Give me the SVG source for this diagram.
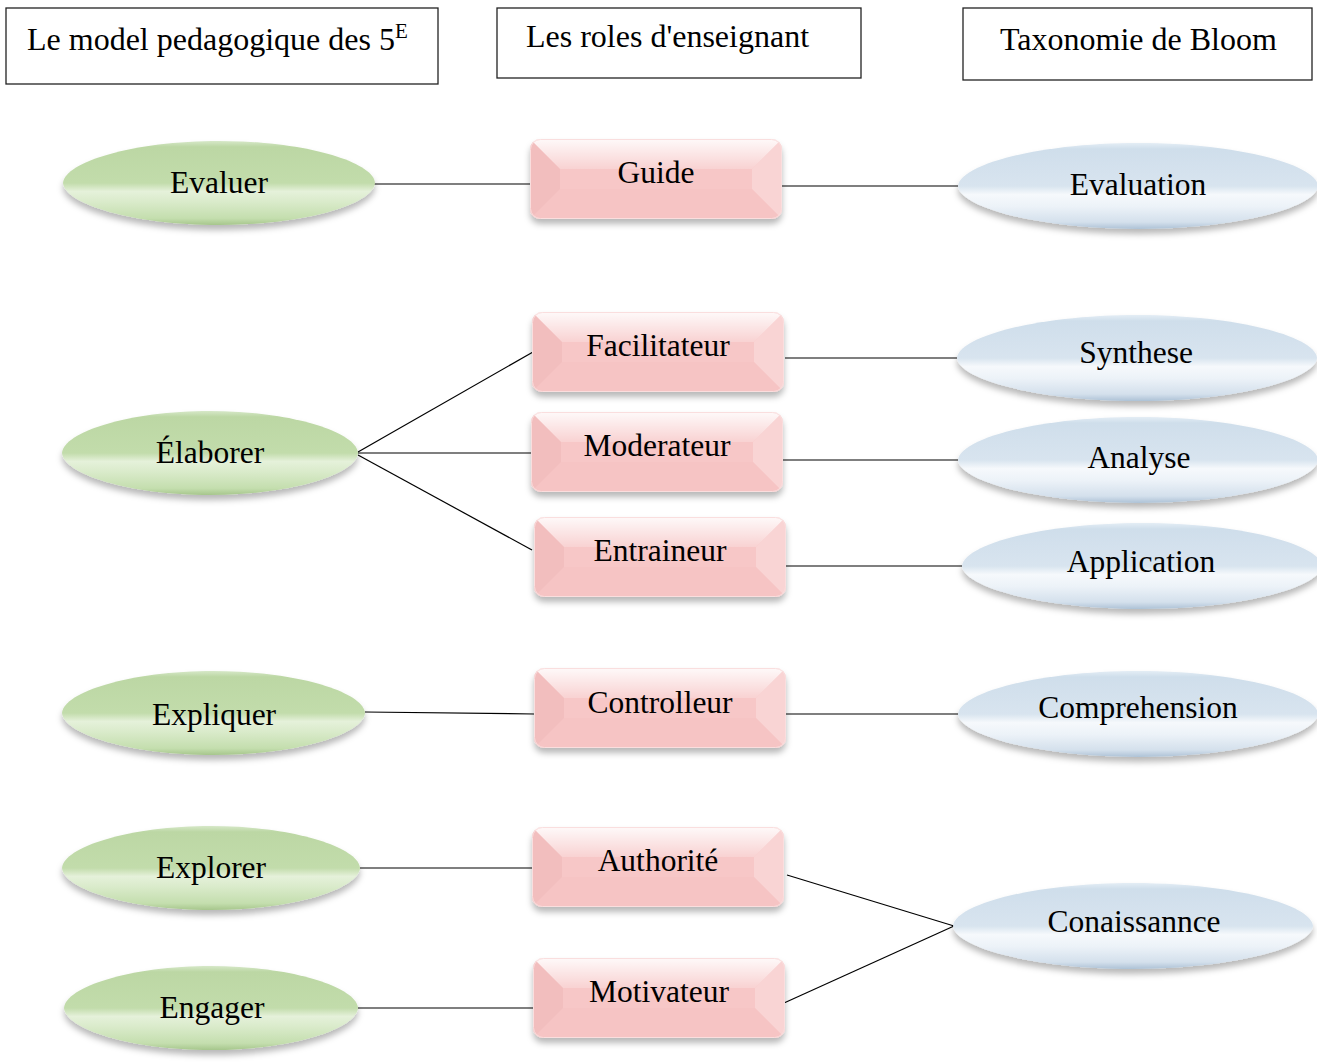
<svg xmlns="http://www.w3.org/2000/svg" xmlns:xlink="http://www.w3.org/1999/xlink" width="1317" height="1064" viewBox="0 0 1317 1064">
<style>
.t{font-family:"Liberation Serif","Times New Roman",serif;font-size:31.5px;fill:#000}
.h{font-size:32px}
.m{text-anchor:middle}
.hdr{fill:#fff;stroke:#222;stroke-width:1.3}
.g{fill:url(#gGreen);filter:url(#sh)}
.b{fill:url(#gBlue);filter:url(#sh)}
.edge{stroke:#000;stroke-width:1.2;fill:none}
</style>
<defs>
<filter id="sh" x="-10%" y="-20%" width="120%" height="150%">
<feDropShadow dx="0" dy="5" stdDeviation="3" flood-color="#000" flood-opacity="0.28"/>
</filter>
<linearGradient id="gGreen" x1="0" y1="0" x2="0" y2="1">
<stop offset="0" stop-color="#d6e8c8"/>
<stop offset="0.07" stop-color="#bcd7a4"/>
<stop offset="0.5" stop-color="#c2dcab"/>
<stop offset="0.6" stop-color="#e5f1da"/>
<stop offset="0.72" stop-color="#daebcb"/>
<stop offset="0.92" stop-color="#c4deae"/>
<stop offset="1" stop-color="#a6c68c"/>
</linearGradient>
<linearGradient id="gBlue" x1="0" y1="0" x2="0" y2="1">
<stop offset="0" stop-color="#e4edf5"/>
<stop offset="0.07" stop-color="#cfdeeb"/>
<stop offset="0.5" stop-color="#d8e4ef"/>
<stop offset="0.6" stop-color="#f6f9fc"/>
<stop offset="0.74" stop-color="#ecf2f8"/>
<stop offset="0.92" stop-color="#d4e0ec"/>
<stop offset="1" stop-color="#adc2d6"/>
</linearGradient>
<linearGradient id="gTop" x1="0" y1="0" x2="0" y2="1">
<stop offset="0" stop-color="#fff" stop-opacity="0.9"/>
<stop offset="1" stop-color="#fff" stop-opacity="0.2"/>
</linearGradient>
<clipPath id="rc"><rect x="0" y="0" width="252" height="80" rx="10"/></clipPath>
<g id="role">
<rect x="0" y="0" width="252" height="80" rx="10" fill="#f7c7c7" filter="url(#sh)"/>
<g clip-path="url(#rc)">
<polygon points="0,0 252,0 222,30 30,30" fill="url(#gTop)"/>
<polygon points="0,0 30,30 30,50 0,80" fill="#ebb1b1" opacity="0.4"/>
<polygon points="252,0 222,30 222,50 252,80" fill="#fcdede" opacity="0.55"/>
<polygon points="0,80 30,50 222,50 252,80" fill="#f4bfbf" opacity="0.35"/>
</g>
<rect x="0.5" y="0.5" width="251" height="79" rx="10" fill="none" stroke="#fadede" stroke-width="1"/>
</g>
</defs>
<rect width="1317" height="1064" fill="#fff"/>

<g id="hdr-5e">
<rect class="hdr" x="6" y="8" width="432" height="76"/>
<text class="t h" x="27" y="50">Le model pedagogique des 5<tspan font-size="21" dy="-12">E</tspan></text>
</g>
<g id="hdr-roles">
<rect class="hdr" x="497" y="8" width="364" height="70"/>
<text class="t h" x="526" y="47">Les roles d'enseignant</text>
</g>
<g id="hdr-bloom">
<rect class="hdr" x="963" y="8" width="349" height="72"/>
<text class="t h" x="1000" y="50">Taxonomie de Bloom</text>
</g>

<g id="connectors">
<line class="edge" x1="372" y1="184" x2="530" y2="184"/>
<line class="edge" x1="782" y1="186" x2="958" y2="186"/>
<line class="edge" x1="358" y1="452" x2="533" y2="352"/>
<line class="edge" x1="358" y1="453" x2="531" y2="453"/>
<line class="edge" x1="358" y1="455" x2="532" y2="550"/>
<line class="edge" x1="785" y1="358" x2="957" y2="358"/>
<line class="edge" x1="783" y1="460" x2="958" y2="460"/>
<line class="edge" x1="786" y1="566" x2="962" y2="566"/>
<line class="edge" x1="365" y1="712" x2="534" y2="714"/>
<line class="edge" x1="786" y1="714" x2="958" y2="714"/>
<line class="edge" x1="360" y1="868" x2="532" y2="868"/>
<line class="edge" x1="358" y1="1008" x2="533" y2="1008"/>
<line class="edge" x1="787" y1="875" x2="954" y2="926"/>
<line class="edge" x1="784" y1="1003" x2="954" y2="926"/>
</g>

<g id="evaluer">
<path class="g" d="M63,183 C64.6,162 133,141 219,141 C305,141 373.4,162 375,183 C373.4,204 305,225 219,225 C133,225 64.6,204 63,183Z"/>
<text class="t m" x="219" y="193">Evaluer</text>
</g>
<g id="elaborer">
<path class="g" d="M62,453 C63.5,432 128.6,411 210,411 C291.4,411 356.5,432 358,453 C356.5,474 291.4,495 210,495 C128.6,495 63.5,474 62,453Z"/>
<text class="t m" x="210" y="463">Élaborer</text>
</g>
<g id="expliquer">
<path class="g" d="M62,713 C63.5,692 130.2,671 213.5,671 C296.8,671 363.5,692 365,713 C363.5,734 296.8,755 213.5,755 C130.2,755 63.5,734 62,713Z"/>
<text class="t m" x="214" y="725">Expliquer</text>
</g>
<g id="explorer">
<path class="g" d="M62,868 C63.5,847 129,826 211,826 C293,826 358.5,847 360,868 C358.5,889 293,910 211,910 C129,910 63.5,889 62,868Z"/>
<text class="t m" x="211" y="878">Explorer</text>
</g>
<g id="engager">
<path class="g" d="M64,1008 C65.5,987 130.2,966 211,966 C291.8,966 356.5,987 358,1008 C356.5,1029 291.8,1050 211,1050 C130.2,1050 65.5,1029 64,1008Z"/>
<text class="t m" x="212" y="1018">Engager</text>
</g>

<g id="guide"><use href="#role" x="530" y="139"/><text class="t m" x="656" y="183">Guide</text></g>
<g id="facilitateur"><use href="#role" x="532" y="312"/><text class="t m" x="658" y="356">Facilitateur</text></g>
<g id="moderateur"><use href="#role" x="531" y="412"/><text class="t m" x="657" y="456">Moderateur</text></g>
<g id="entraineur"><use href="#role" x="534" y="517"/><text class="t m" x="660" y="561">Entraineur</text></g>
<g id="controlleur"><use href="#role" x="534" y="668"/><text class="t m" x="660" y="713">Controlleur</text></g>
<g id="authorite"><use href="#role" x="532" y="827"/><text class="t m" x="658" y="871">Authorité</text></g>
<g id="motivateur"><use href="#role" x="533" y="958"/><text class="t m" x="659" y="1002">Motivateur</text></g>

<g id="evaluation">
<path class="b" d="M958,186 C959.8,164.5 1039,143 1138,143 C1237,143 1316.2,164.5 1318,186 C1316.2,207.5 1237,229 1138,229 C1039,229 959.8,207.5 958,186Z"/>
<text class="t m" x="1138" y="195">Evaluation</text>
</g>
<g id="synthese">
<path class="b" d="M957,358 C958.8,336.5 1038,315 1137,315 C1236,315 1315.2,336.5 1317,358 C1315.2,379.5 1236,401 1137,401 C1038,401 958.8,379.5 957,358Z"/>
<text class="t m" x="1136" y="363">Synthese</text>
</g>
<g id="analyse">
<path class="b" d="M958,460 C959.8,438.5 1039,417 1138,417 C1237,417 1316.2,438.5 1318,460 C1316.2,481.5 1237,503 1138,503 C1039,503 959.8,481.5 958,460Z"/>
<text class="t m" x="1139" y="468">Analyse</text>
</g>
<g id="application">
<path class="b" d="M962,566 C963.8,544.5 1043,523 1142,523 C1241,523 1320.2,544.5 1322,566 C1320.2,587.5 1241,609 1142,609 C1043,609 963.8,587.5 962,566Z"/>
<text class="t m" x="1141" y="572">Application</text>
</g>
<g id="comprehension">
<path class="b" d="M958,714 C959.8,692.5 1039,671 1138,671 C1237,671 1316.2,692.5 1318,714 C1316.2,735.5 1237,757 1138,757 C1039,757 959.8,735.5 958,714Z"/>
<text class="t m" x="1138" y="718">Comprehension</text>
</g>
<g id="conaissannce">
<path class="b" d="M953,926 C954.8,904.5 1034,883 1133,883 C1232,883 1311.2,904.5 1313,926 C1311.2,947.5 1232,969 1133,969 C1034,969 954.8,947.5 953,926Z"/>
<text class="t m" x="1134" y="932">Conaissannce</text>
</g>
</svg>
